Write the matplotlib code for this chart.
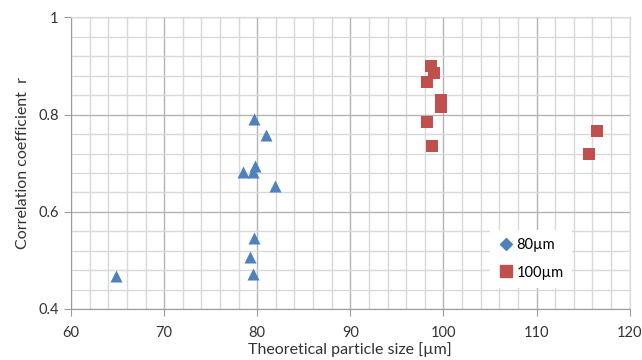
import matplotlib.pyplot as plt
from matplotlib.lines import Line2D
from matplotlib.ticker import MultipleLocator

plt.rcParams['font.family'] = ['Lato', 'DejaVu Sans']

# 80um series
size_80 = [64.8, 78.5, 79.6, 80.9, 79.5, 79.8, 81.9, 79.6, 79.2, 79.5]
r_80 = [0.468, 0.682, 0.792, 0.758, 0.681, 0.694, 0.653, 0.547, 0.506, 0.471]

# 100um series
size_100 = [98.7, 99.0, 98.2, 99.7, 99.7, 98.2, 98.8, 116.5, 115.6]
r_100 = [0.901, 0.885, 0.867, 0.831, 0.815, 0.785, 0.736, 0.766, 0.719]

blue = '#4F81BD'
red = '#C0504D'

fig = plt.figure(figsize=(6.42, 3.6), dpi=100)
ax = fig.add_axes([0.1106, 0.1417, 0.8703, 0.8097])

ax.scatter(size_80, r_80, marker='^', s=75, color=blue, zorder=3, linewidths=0)
ax.scatter(size_100, r_100, marker='s', s=70, color=red, zorder=3, linewidths=0)

ax.set_xlim(60, 120)
ax.set_ylim(0.4, 1.0)
ax.xaxis.set_major_locator(MultipleLocator(10))
ax.xaxis.set_minor_locator(MultipleLocator(2))
ax.yaxis.set_major_locator(MultipleLocator(0.2))
ax.yaxis.set_minor_locator(MultipleLocator(0.04))
ax.set_yticks([0.4, 0.6, 0.8, 1.0])
ax.set_yticklabels(['0.4', '0.6', '0.8', '1'])

ax.grid(which='minor', color='#D9D9D9', linewidth=1.0)
ax.grid(which='major', color='#B3B3B3', linewidth=1.0)
ax.set_axisbelow(True)

for side in ['top', 'right']:
    ax.spines[side].set_color('#D9D9D9')
for side in ['left', 'bottom']:
    ax.spines[side].set_color('#9A9A9A')
ax.tick_params(which='major', length=5, color='#9A9A9A', labelsize=10.5,
               labelcolor='#333333')
ax.tick_params(axis='x', which='major', pad=7)
ax.tick_params(axis='y', which='major', pad=4)
ax.tick_params(which='minor', length=0)

ax.set_xlabel('Theoretical particle size [µm]', fontsize=11.5, color='#333333', labelpad=2)
ax.set_ylabel('Correlation coefficient  r', fontsize=11.5, color='#333333', labelpad=6)

handles = [Line2D([], [], marker='D', linestyle='none', color=blue, markersize=6),
           Line2D([], [], marker='s', linestyle='none', color=red, markersize=8)]
leg = ax.legend(handles, ['80µm', '100µm'], loc='lower left',
                bbox_to_anchor=(0.737, 0.046), frameon=True, fontsize=10.5,
                handletextpad=0.2, handlelength=1.0, borderpad=0.6, labelspacing=0.9)
leg.get_frame().set_facecolor('white')
leg.get_frame().set_edgecolor('none')
leg.get_frame().set_alpha(1)
leg.get_frame().set_boxstyle('square', pad=0)

fig.savefig('out.png', dpi=100)
